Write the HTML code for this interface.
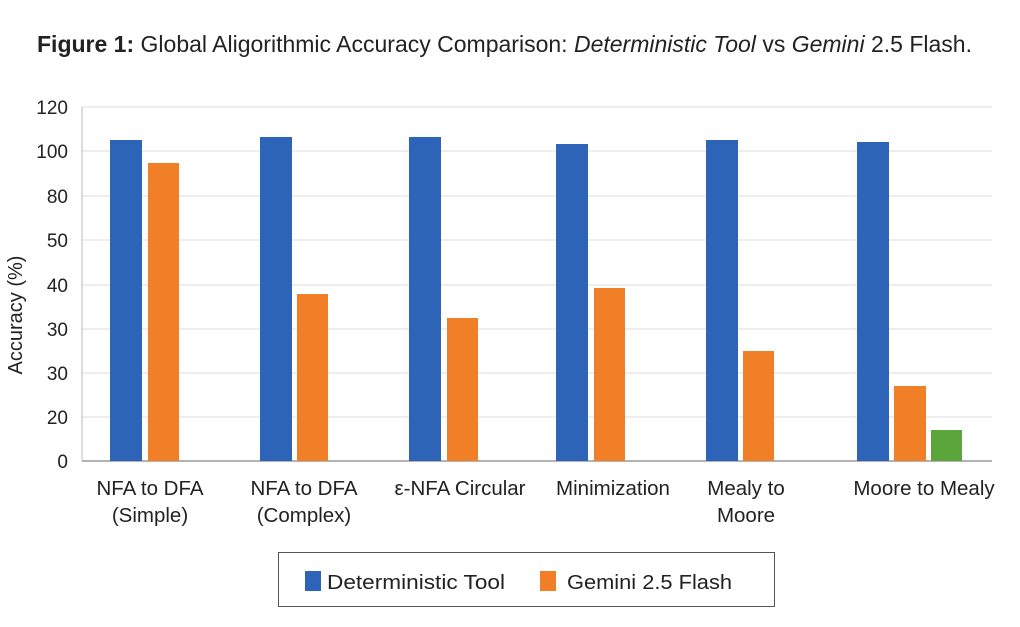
<!DOCTYPE html>
<html><head><meta charset="utf-8"><style>
html,body{margin:0;padding:0;background:#fff;}
svg{display:block;font-family:"Liberation Sans",sans-serif;}
</style></head><body>
<svg width="1020" height="627" viewBox="0 0 1020 627" xmlns="http://www.w3.org/2000/svg">
<rect width="1020" height="627" fill="#fff"/>
<text x="37" y="52" font-size="23" fill="#222" textLength="935" lengthAdjust="spacingAndGlyphs"><tspan font-weight="bold">Figure 1:</tspan> Global Aligorithmic Accuracy Comparison: <tspan font-style="italic">Deterministic Tool</tspan> vs <tspan font-style="italic">Gemini</tspan> 2.5 Flash.</text>
<g stroke="#ddd" stroke-width="1">
<line x1="82" y1="107" x2="992" y2="107"/>
<line x1="82" y1="151" x2="992" y2="151"/>
<line x1="82" y1="196" x2="992" y2="196"/>
<line x1="82" y1="240" x2="992" y2="240"/>
<line x1="82" y1="285" x2="992" y2="285"/>
<line x1="82" y1="329" x2="992" y2="329"/>
<line x1="82" y1="373" x2="992" y2="373"/>
<line x1="82" y1="417" x2="992" y2="417"/>
</g>
<line x1="82" y1="107" x2="82" y2="461" stroke="#bbb"/>
<line x1="82" y1="461" x2="992" y2="461" stroke="#999" stroke-width="1.5"/>
<g font-size="19" fill="#222" text-anchor="end">
<text x="68" y="114">120</text><text x="68" y="158">100</text><text x="68" y="203">80</text>
<text x="68" y="247">50</text><text x="68" y="292">40</text><text x="68" y="336">30</text>
<text x="68" y="380">30</text><text x="68" y="424">20</text><text x="68" y="468">0</text>
</g>
<text transform="translate(22,315) rotate(-90)" font-size="20" fill="#222" text-anchor="middle">Accuracy (%)</text>
<g fill="#2e64b8">
<rect x="110" y="140" width="32" height="321"/>
<rect x="260" y="137" width="32" height="324"/>
<rect x="409" y="137" width="32" height="324"/>
<rect x="556" y="144" width="32" height="317"/>
<rect x="706" y="140" width="32" height="321"/>
<rect x="857" y="142" width="32" height="319"/>
</g>
<g fill="#f07f27">
<rect x="148" y="163" width="31" height="298"/>
<rect x="297" y="294" width="31" height="167"/>
<rect x="447" y="318" width="31" height="143"/>
<rect x="594" y="288" width="31" height="173"/>
<rect x="743" y="351" width="31" height="110"/>
<rect x="894" y="386" width="32" height="75"/>
</g>
<rect x="931" y="430" width="31" height="31" fill="#5aa63a"/>
<g font-size="20.5" fill="#222" text-anchor="middle">
<text x="150" y="495">NFA to DFA</text><text x="150" y="522">(Simple)</text>
<text x="304" y="495">NFA to DFA</text><text x="304" y="522">(Complex)</text>
<text x="460" y="495">ε-NFA Circular</text>
<text x="613" y="495">Minimization</text>
<text x="746" y="495">Mealy to</text><text x="746" y="522">Moore</text>
<text x="924" y="495">Moore to Mealy</text>
</g>
<rect x="278.5" y="552.5" width="496" height="54" fill="#fff" stroke="#555"/>
<rect x="305" y="571" width="16" height="20" fill="#2e64b8"/>
<text x="327" y="589" font-size="20" fill="#222" textLength="178" lengthAdjust="spacingAndGlyphs">Deterministic Tool</text>
<rect x="540" y="571" width="16" height="20" fill="#f07f27"/>
<text x="567" y="589" font-size="20" fill="#222" textLength="165" lengthAdjust="spacingAndGlyphs">Gemini 2.5 Flash</text>
</svg>
</body></html>
